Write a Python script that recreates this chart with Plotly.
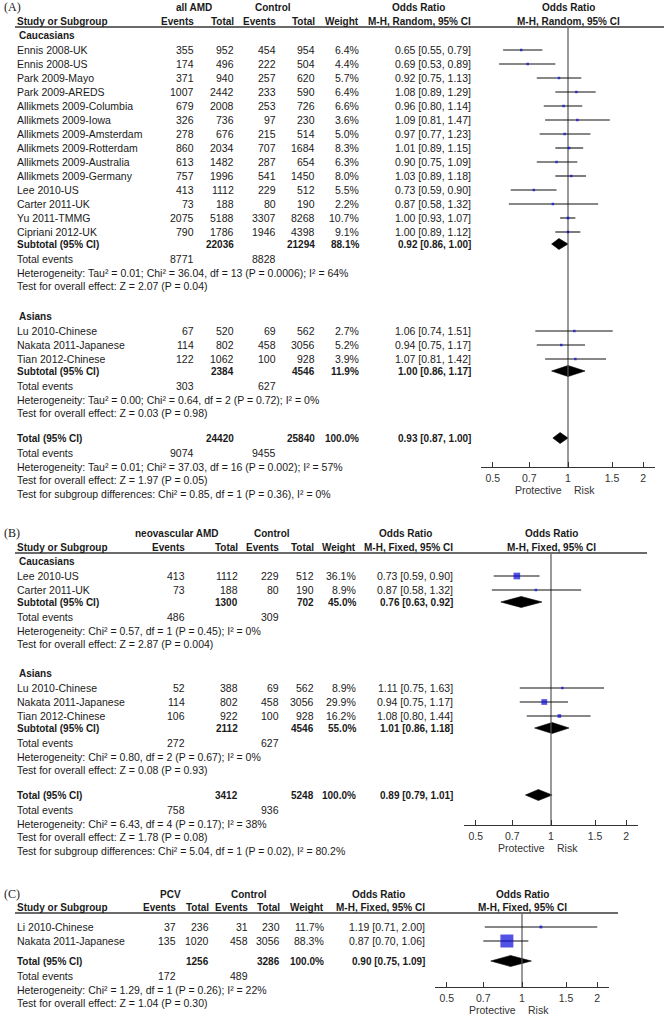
import plotly.graph_objects as go

W, H = 670, 1021
SANS = "Liberation Sans, Arial, sans-serif"
SERIF = "Liberation Serif, Times New Roman, serif"
TXT = "#1a1a1a"
BLUE = "#0808d8"
FS = 10.5      # regular text size
FB = 10        # bold text size

# ---------------- Panel A: all AMD (M-H, Random) ----------------
A_names = ["Ennis 2008-UK", "Ennis 2008-US", "Park 2009-Mayo", "Park 2009-AREDS",
           "Allikmets 2009-Columbia", "Allikmets 2009-Iowa", "Allikmets 2009-Amsterdam",
           "Allikmets 2009-Rotterdam", "Allikmets 2009-Australia", "Allikmets 2009-Germany",
           "Lee 2010-US", "Carter 2011-UK", "Yu 2011-TMMG", "Cipriani 2012-UK",
           "Lu 2010-Chinese", "Nakata 2011-Japanese", "Tian 2012-Chinese"]
A_group = [0] * 14 + [1] * 3
A_ev_case = [355, 174, 371, 1007, 679, 326, 278, 860, 613, 757, 413, 73, 2075, 790, 67, 114, 122]
A_tot_case = [952, 496, 940, 2442, 2008, 736, 676, 2034, 1482, 1996, 1112, 188, 5188, 1786, 520, 802, 1062]
A_ev_ctrl = [454, 222, 257, 233, 253, 97, 215, 707, 287, 541, 229, 80, 3307, 1946, 69, 458, 100]
A_tot_ctrl = [954, 504, 620, 590, 726, 230, 514, 1684, 654, 1450, 512, 190, 8268, 4398, 562, 3056, 928]
A_weight = [6.4, 4.4, 5.7, 6.4, 6.6, 3.6, 5.0, 8.3, 6.3, 8.0, 5.5, 2.2, 10.7, 9.1, 2.7, 5.2, 3.9]
A_or = [0.65, 0.69, 0.92, 1.08, 0.96, 1.09, 0.97, 1.01, 0.90, 1.03, 0.73, 0.87, 1.00, 1.00, 1.06, 0.94, 1.07]
A_lo = [0.55, 0.53, 0.75, 0.89, 0.80, 0.81, 0.77, 0.89, 0.75, 0.89, 0.59, 0.58, 0.93, 0.89, 0.74, 0.75, 0.81]
A_hi = [0.79, 0.89, 1.13, 1.29, 1.14, 1.47, 1.23, 1.15, 1.09, 1.18, 0.90, 1.32, 1.07, 1.12, 1.51, 1.17, 1.42]
A_sub_labels = ["Caucasians", "Asians"]
A_sub_tot_case = [22036, 2384]
A_sub_tot_ctrl = [21294, 4546]
A_sub_weight = [88.1, 11.9]
A_sub_or = [0.92, 1.00]
A_sub_lo = [0.86, 0.86]
A_sub_hi = [1.00, 1.17]
A_sub_ev_case = [8771, 303]
A_sub_ev_ctrl = [8828, 627]
A_sub_het = ["Heterogeneity: Tau² = 0.01; Chi² = 36.04, df = 13 (P = 0.0006); I² = 64%",
             "Heterogeneity: Tau² = 0.00; Chi² = 0.64, df = 2 (P = 0.72); I² = 0%"]
A_sub_z = ["Test for overall effect: Z = 2.07 (P = 0.04)",
           "Test for overall effect: Z = 0.03 (P = 0.98)"]
A_tot_n = [24420, 25840]
A_tot_weight = 100.0
A_tot_ci = [0.93, 0.87, 1.00]
A_tot_ev = [9074, 9455]
A_tot_lines = ["Heterogeneity: Tau² = 0.01; Chi² = 37.03, df = 16 (P = 0.002); I² = 57%",
               "Test for overall effect: Z = 1.97 (P = 0.05)",
               "Test for subgroup differences: Chi² = 0.85, df = 1 (P = 0.36), I² = 0%"]

# ---------------- Panel B: neovascular AMD (M-H, Fixed) ----------------
B_names = ["Lee 2010-US", "Carter 2011-UK", "Lu 2010-Chinese", "Nakata 2011-Japanese", "Tian 2012-Chinese"]
B_group = [0, 0, 1, 1, 1]
B_ev_case = [413, 73, 52, 114, 106]
B_tot_case = [1112, 188, 388, 802, 922]
B_ev_ctrl = [229, 80, 69, 458, 100]
B_tot_ctrl = [512, 190, 562, 3056, 928]
B_weight = [36.1, 8.9, 8.9, 29.9, 16.2]
B_or = [0.73, 0.87, 1.11, 0.94, 1.08]
B_lo = [0.59, 0.58, 0.75, 0.75, 0.80]
B_hi = [0.90, 1.32, 1.63, 1.17, 1.44]
B_sub_labels = ["Caucasians", "Asians"]
B_sub_tot_case = [1300, 2112]
B_sub_tot_ctrl = [702, 4546]
B_sub_weight = [45.0, 55.0]
B_sub_or = [0.76, 1.01]
B_sub_lo = [0.63, 0.86]
B_sub_hi = [0.92, 1.18]
B_sub_ev_case = [486, 272]
B_sub_ev_ctrl = [309, 627]
B_sub_het = ["Heterogeneity: Chi² = 0.57, df = 1 (P = 0.45); I² = 0%",
             "Heterogeneity: Chi² = 0.80, df = 2 (P = 0.67); I² = 0%"]
B_sub_z = ["Test for overall effect: Z = 2.87 (P = 0.004)",
           "Test for overall effect: Z = 0.08 (P = 0.93)"]
B_tot_n = [3412, 5248]
B_tot_weight = 100.0
B_tot_ci = [0.89, 0.79, 1.01]
B_tot_ev = [758, 936]
B_tot_lines = ["Heterogeneity: Chi² = 6.43, df = 4 (P = 0.17); I² = 38%",
               "Test for overall effect: Z = 1.78 (P = 0.08)",
               "Test for subgroup differences: Chi² = 5.04, df = 1 (P = 0.02), I² = 80.2%"]

# ---------------- Panel C: PCV (M-H, Fixed) ----------------
C_names = ["Li 2010-Chinese", "Nakata 2011-Japanese"]
C_group = [0, 0]
C_ev_case = [37, 135]
C_tot_case = [236, 1020]
C_ev_ctrl = [31, 458]
C_tot_ctrl = [230, 3056]
C_weight = [11.7, 88.3]
C_or = [1.19, 0.87]
C_lo = [0.71, 0.70]
C_hi = [2.00, 1.06]
C_tot_n = [1256, 3286]
C_tot_weight = 100.0
C_tot_ci = [0.90, 0.75, 1.09]
C_tot_ev = [172, 489]
C_tot_lines = ["Heterogeneity: Chi² = 1.29, df = 1 (P = 0.26); I² = 22%",
               "Test for overall effect: Z = 1.04 (P = 0.30)"]

TICK_VALS = [0.5, 0.7, 1, 1.5, 2]
TICK_TEXT = ["0.5", "0.7", "1", "1.5", "2"]

fig = go.Figure()
annotations = []
shapes = []


def T(x, y, s, anchor="left", bold=False, size=None, family=SANS, color=TXT):
    if size is None:
        size = FB if bold else FS
    if bold:
        s = "<b>" + s + "</b>"
    annotations.append(dict(x=x / W, y=y, xref="paper", yref="y", text=s, showarrow=False,
                            xanchor=anchor, yanchor="middle", borderpad=0,
                            font=dict(family=family, size=size, color=color)))


def fmt_ci(o, l, h):
    return f"{o:.2f} [{l:.2f}, {h:.2f}]"


def box_size(w):
    return max(2.5, 0.45 * w ** 0.75)


def diamond(xa, o, l, h, y, half=5.5):
    fig.add_trace(go.Scatter(x=[l, o, h, o, l], y=[y, y - half, y, y + half, y], xaxis=xa, yaxis="y",
                             mode="lines", fill="toself", fillcolor="#000000",
                             line=dict(color="#000000", width=0.6), hoverinfo="skip"))


def draw_panel(P, L):
    xa = L["xa"]
    cx = L["cx"]
    y = L["top"]
    T(3, y, L["tag"], family=SERIF, size=12)
    T(L["c_case"], y, L["case"], "center", True)
    T(L["c_ctrl"], y, "Control", "center", True)
    T(L["c_orh"], y, "Odds Ratio", "center", True)
    T(cx, y, "Odds Ratio", "center", True)
    yh = y + L["hdr"]
    T(16, yh, "Study or Subgroup", "left", True)
    T(L["ev1"], yh, "Events", "right", True)
    T(L["tot1"], yh, "Total", "right", True)
    T(L["ev2"], yh, "Events", "right", True)
    T(L["tot2"], yh, "Total", "right", True)
    T(L["w"], yh, "Weight", "right", True)
    T(L["orr"], yh, L["method"], "right", True)
    T(cx, yh, L["method"], "center", True)
    yu = yh + 6
    shapes.append(dict(type="line", xref="paper", yref="y", x0=15 / W, x1=L["uend"] / W, y0=yu, y1=yu,
                       line=dict(color="#6a6a6a", width=2)))

    ci_x, ci_y, mk_x, mk_y, mk_s = [], [], [], [], []
    n_groups = len(P.get("sub_labels", [None]))
    y = yu + L["first"]
    for g in range(n_groups):
        if "sub_labels" in P:
            T(18, y, P["sub_labels"][g], "left", True)
            y += 15
        idx = [i for i, gg in enumerate(P["group"]) if gg == g]
        for i in idx:
            T(16, y, P["names"][i])
            T(L["ev1"], y, str(P["ev_case"][i]), "right")
            T(L["tot1"], y, str(P["tot_case"][i]), "right")
            T(L["ev2"], y, str(P["ev_ctrl"][i]), "right")
            T(L["tot2"], y, str(P["tot_ctrl"][i]), "right")
            T(L["w"], y, f"{P['weight'][i]:.1f}%", "right")
            T(L["orr"], y, fmt_ci(P["or"][i], P["lo"][i], P["hi"][i]), "right")
            ci_x += [P["lo"][i], P["hi"][i], None]
            ci_y += [y, y, None]
            mk_x.append(P["or"][i])
            mk_y.append(y)
            mk_s.append(box_size(P["weight"][i]))
            y += 14
        y -= 14
        if "sub_labels" in P:
            y += 12
            T(16, y, "Subtotal (95% CI)", "left", True)
            T(L["tot1"], y, str(P["sub_tot_case"][g]), "right", True)
            T(L["tot2"], y, str(P["sub_tot_ctrl"][g]), "right", True)
            T(L["w"], y, f"{P['sub_weight'][g]:.1f}%", "right", True)
            T(L["orr"], y, fmt_ci(P["sub_or"][g], P["sub_lo"][g], P["sub_hi"][g]), "right", True)
            diamond(xa, P["sub_or"][g], P["sub_lo"][g], P["sub_hi"][g], y)
            y += 15
            T(16, y, "Total events")
            T(L["ev1"], y, str(P["sub_ev_case"][g]), "right")
            T(L["ev2"], y, str(P["sub_ev_ctrl"][g]), "right")
            y += 13.5
            T(16, y, P["sub_het"][g])
            y += 13.5
            T(16, y, P["sub_z"][g])
            if g < n_groups - 1:
                y += L["grp_gap"]
    y += L["tot_gap"]
    T(16, y, "Total (95% CI)", "left", True)
    T(L["tot1"], y, str(P["tot_n"][0]), "right", True)
    T(L["tot2"], y, str(P["tot_n"][1]), "right", True)
    T(L["w"], y, f"{P['tot_weight']:.1f}%", "right", True)
    o, l, h = P["tot_ci"]
    T(L["orr"], y, fmt_ci(o, l, h), "right", True)
    diamond(xa, o, l, h, y)
    y += 15
    T(16, y, "Total events")
    T(L["ev1"], y, str(P["tot_ev"][0]), "right")
    T(L["ev2"], y, str(P["tot_ev"][1]), "right")
    for s in P["tot_lines"]:
        y += 13.5
        T(16, y, s)

    # reference line at OR = 1
    fig.add_trace(go.Scatter(x=[1, 1], y=[yu, L["axis_y"]], xaxis=xa, yaxis="y", mode="lines",
                             line=dict(color="#555555", width=1.2), hoverinfo="skip"))
    # confidence intervals
    fig.add_trace(go.Scatter(x=ci_x, y=ci_y, xaxis=xa, yaxis="y", mode="lines",
                             line=dict(color="#111111", width=1.1), hoverinfo="skip"))
    # study boxes
    fig.add_trace(go.Scatter(x=mk_x, y=mk_y, xaxis=xa, yaxis="y", mode="markers",
                             marker=dict(symbol="square", size=mk_s, color=BLUE, line=dict(width=0)),
                             hoverinfo="skip"))
    # Protective / Risk labels (x = log10(1) on the log axis)
    for lab, anc, sh in (("Protective", "right", -4), ("Risk", "left", 4)):
        annotations.append(dict(x=0, y=L["axis_y"] + 23, xref=xa, yref="y", text=lab,
                                showarrow=False, xanchor=anc, yanchor="middle", xshift=sh,
                                font=dict(family=SANS, size=FS, color="#333333")))


def pack(prefix):
    g = globals()
    keys = ["names", "group", "ev_case", "tot_case", "ev_ctrl", "tot_ctrl", "weight", "or", "lo", "hi",
            "sub_labels", "sub_tot_case", "sub_tot_ctrl", "sub_weight", "sub_or", "sub_lo", "sub_hi",
            "sub_ev_case", "sub_ev_ctrl", "sub_het", "sub_z",
            "tot_n", "tot_weight", "tot_ci", "tot_ev", "tot_lines"]
    return {k: g[prefix + "_" + k] for k in keys if (prefix + "_" + k) in g}


LA = dict(xa="x", tag="(A)", case="all AMD", method="M-H, Random, 95% CI", cx=568, top=7, hdr=14,
          c_case=194, c_ctrl=273, c_orh=418, ev1=195, tot1=235, ev2=277, tot2=316, w=360, orr=472,
          uend=664, first=8, grp_gap=30, tot_gap=25, axis_y=467)
LB = dict(xa="x2", tag="(B)", case="neovascular AMD", method="M-H, Fixed, 95% CI", cx=551, top=533, hdr=14,
          c_case=177, c_ctrl=272, c_orh=405, ev1=186, tot1=239, ev2=280, tot2=315, w=357, orr=454,
          uend=647, first=8, grp_gap=29, tot_gap=25, axis_y=825)
LC = dict(xa="x3", tag="(C)", case="PCV", method="M-H, Fixed, 95% CI", cx=522, top=894, hdr=13,
          c_case=170, c_ctrl=249, c_orh=378, ev1=177, tot1=210, ev2=249, tot2=281, w=325, orr=426,
          uend=618, first=14, grp_gap=30, tot_gap=20, axis_y=987)

draw_panel(pack("A"), LA)
draw_panel(pack("B"), LB)
draw_panel(pack("C"), LC)

HALF = 87      # px half-width of each forest axis
SCALE = 250.0  # px per log10 unit
RNG = HALF / SCALE


def xaxis_for(L):
    return dict(type="log", range=[-RNG, RNG], domain=[(L["cx"] - HALF) / W, (L["cx"] + HALF) / W],
                anchor="free", position=1 - L["axis_y"] / H, showline=True, linecolor="#333333",
                linewidth=1, ticks="inside", ticklen=5, tickwidth=1, tickcolor="#333333",
                tickvals=TICK_VALS, ticktext=TICK_TEXT, showgrid=False, zeroline=False,
                ticklabelstandoff=1, tickfont=dict(family=SANS, size=FS, color="#333333"),
                fixedrange=True)


fig.update_layout(
    width=W, height=H, margin=dict(l=0, r=0, t=0, b=0),
    paper_bgcolor="white", plot_bgcolor="rgba(0,0,0,0)", showlegend=False,
    xaxis=xaxis_for(LA), xaxis2=xaxis_for(LB), xaxis3=xaxis_for(LC),
    yaxis=dict(range=[H, 0], domain=[0, 1], visible=False, fixedrange=True),
    annotations=annotations, shapes=shapes,
)

fig.write_html("out.html", config={"displayModeBar": False},
               post_script="document.body.style.margin='0px';"
                           "document.documentElement.style.overflow='hidden';")
